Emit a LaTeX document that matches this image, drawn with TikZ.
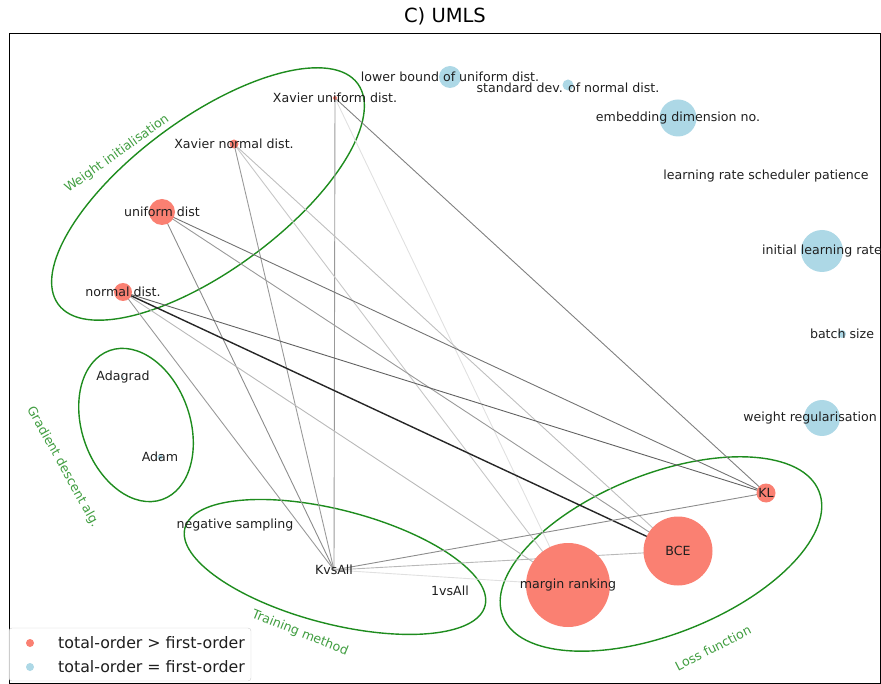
\documentclass[tikz,border=0pt]{standalone}
\usepackage{fontspec}
\setmainfont{DejaVu Sans}
\usepackage{tikz}

\definecolor{salmon}{HTML}{FA8072}
\definecolor{lblue}{HTML}{ADD8E6}
\definecolor{grp}{HTML}{1E8C1E}
\pgfdeclarelayer{bg}
\pgfsetlayers{bg,main}

\tikzset{
  every label/.style={inner sep=0pt, text=black!88, font=\fontsize{12.6}{14}\selectfont},
  hpnode/.style={circle, inner sep=0pt, minimum size=#1},
  hpred/.style={hpnode=#1, fill=salmon},
  hpblue/.style={hpnode=#1, fill=lblue},
  hpbare/.style={inner sep=0pt, minimum size=0pt},
  link/.style={line width=0.9pt, draw=black!#1},
  grpline/.style={draw=grp, line width=1.4pt},
  grptext/.style={text=grp!85!white, font=\fontsize{12.6}{14}\selectfont, inner sep=0pt},
  legtext/.style={anchor=west, inner sep=0pt, font=\fontsize{15.8}{18}\selectfont, text=black!88}
}

\begin{document}
\begin{tikzpicture}[x=1pt, y=-1pt]
    \useasboundingbox (0,0) rectangle (881,684);
    \node[font=\fontsize{19.5}{22}\selectfont] (title) at (445,16) {C) UMLS};
    \draw[line width=1pt] (9,34) rectangle (880,683);

    % hyperparameter values
    \node[hpred=4pt, label={center:Xavier uniform dist.}] (xu) at (335,98) {};
    \node[hpred=9pt, label={center:Xavier normal dist.}] (xn) at (234,144) {};
    \node[hpred=26pt, label={center:uniform dist}] (ud) at (162,212) {};
    \node[hpred=18pt, label={center:normal dist.}] (nd) at (123,292) {};
    \node[hpblue=22pt, label={center:lower bound of uniform dist.}] (lb) at (450,77) {};
    \node[hpblue=11pt, label={[yshift=-3pt]center:standard dev. of normal dist.}] (sd) at (568,85) {};
    \node[hpblue=37pt, label={center:embedding dimension no.}] (ed) at (678,118) {};
    \node[hpbare, label={center:learning rate scheduler patience}] (lrp) at (766,176) {};
    \node[hpblue=42pt, label={center:initial learning rate}] (ilr) at (822,251) {};
    \node[hpblue=8pt, label={center:batch size}] (bs) at (842,334) {};
    \node[hpblue=36pt, label={[xshift=-12pt]center:weight regularisation}] (wr) at (822,418) {};
    \node[hpblue=2pt, label={center:Adagrad}] (ada) at (123,377) {};
    \node[hpblue=5pt, label={center:Adam}] (adam) at (160,457) {};
    \node[hpbare, label={center:negative sampling}] (ns) at (235,525) {};
    \node[hpbare, label={center:KvsAll}] (kva) at (334,570) {};
    \node[hpbare, label={center:1vsAll}] (ova) at (450,591) {};
    \node[hpred=84pt, label={center:margin ranking}] (mr) at (568,585) {};
    \node[hpred=69pt, label={center:BCE}] (bce) at (678,551) {};
    \node[hpred=19pt, label={center:KL}] (kl) at (766,493) {};

    \begin{pgfonlayer}{bg}
        % groups
        \coordinate (gw) at (208,194);
        \coordinate (gg) at (136,425);
        \coordinate (gt) at (335,567);
        \coordinate (gl) at (661,554);
        \draw[grpline, rotate around={36.4:(gw)}] (gw) ellipse [x radius=186, y radius=76];
        \draw[grpline, rotate around={-70.6:(gg)}] (gg) ellipse [x radius=79, y radius=54];
        \draw[grpline, rotate around={-14.5:(gt)}] (gt) ellipse [x radius=155, y radius=57];
        \draw[grpline, rotate around={21.6:(gl)}] (gl) ellipse [x radius=170, y radius=80];

        % interactions
        \draw[link=40] (xu.center) -- (kva.center);
        \draw[link=50] (xu.center) -- (kl.center);
        \draw[link=12] (xu.center) -- (mr.center);
        \draw[link=40] (xn.center) -- (kva.center);
        \draw[link=25] (xn.center) -- (bce.center);
        \draw[link=22] (xn.center) -- (mr.center);
        \draw[link=45] (ud.center) -- (kva.center);
        \draw[link=55] (ud.center) -- (kl.center);
        \draw[link=40] (ud.center) -- (bce.center);
        \draw[link=40] (nd.center) -- (kva.center);
        \draw[link=28] (nd.center) -- (mr.center);
        \draw[link=85, line width=1.4pt] (nd.center) -- (bce.center);
        \draw[link=62] (nd.center) -- (kl.center);
        \draw[link=45] (kva.center) -- (kl.center);
        \draw[link=28] (kva.center) -- (bce.center);
        \draw[link=12] (kva.center) -- (mr.center);
    \end{pgfonlayer}

    \node[grptext, rotate=35.5] (tw) at (117,154) {Weight initialisation};
    \node[grptext, rotate=-61] (tg) at (63,467) {Gradient descent alg.};
    \node[grptext, rotate=-22] (tt) at (300,633) {Training method};
    \node[grptext, rotate=27] (tl) at (713,648) {Loss function};

    % legend
    \draw[draw=black!20, fill=white, fill opacity=0.8, rounded corners=3pt] (9,628) rectangle (251,681);
    \node[hpred=8pt] (m1) at (30,643) {};
    \node[hpblue=8pt] (m2) at (30,667) {};
    \node[legtext] (l1) at (58,643) {total-order > first-order};
    \node[legtext] (l2) at (58,667) {total-order = first-order};
\end{tikzpicture}
\end{document}
